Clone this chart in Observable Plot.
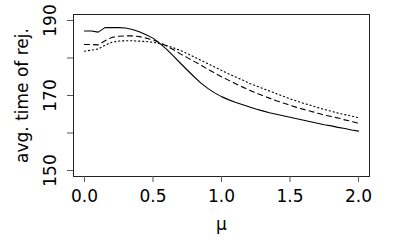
<!DOCTYPE html>
<html>
<head>
<meta charset="utf-8">
<script src="https://cdn.jsdelivr.net/npm/d3@7"></script>
<script src="https://cdn.jsdelivr.net/npm/@observablehq/plot@0.6"></script>
<style>
  html, body { margin: 0; padding: 0; background: #fff; }
</style>
</head>
<body>
<div id="chart"></div>
<script>
const mu = [0,0.05,0.1,0.15,0.2,0.25,0.3,0.35,0.4,0.45,0.5,0.55,0.6,0.65,0.7,0.75,0.8,0.85,0.9,0.95,1.0,1.05,1.1,1.15,1.2,1.25,1.3,1.35,1.4,1.45,1.5,1.55,1.6,1.65,1.7,1.75,1.8,1.85,1.9,1.95,2.0];
const solid = [187.2,187.2,186.9,188.1,188.1,188.1,188.0,187.6,187.0,186.2,185.3,183.9,182.3,180.5,178.6,176.8,175.0,173.3,171.9,170.7,169.7,168.9,168.2,167.6,167.0,166.4,165.9,165.4,165.0,164.6,164.2,163.8,163.4,163.0,162.6,162.2,161.9,161.5,161.2,160.8,160.5];
const dashed = [183.6,183.6,183.5,184.6,185.5,185.8,185.9,185.9,185.7,185.3,184.8,184.1,183.2,182.2,181.1,180.1,179.1,178.1,177.0,176.0,175.0,174.1,173.2,172.3,171.5,170.7,170.0,169.3,168.6,168.0,167.4,166.8,166.3,165.8,165.3,164.8,164.4,164.0,163.5,163.1,162.6];
const dotted = [181.8,182.1,182.4,183.4,184.2,184.5,184.6,184.6,184.5,184.4,184.2,183.8,183.3,182.7,182.0,181.2,180.3,179.4,178.5,177.6,176.7,175.8,175.0,174.2,173.3,172.6,171.9,171.2,170.5,169.8,169.1,168.5,167.9,167.4,166.8,166.3,165.8,165.3,164.9,164.5,164.1];
const xTicks = [0, 0.5, 1.0, 1.5, 2.0];
const yTicks = [150, 160, 170, 180, 190];
const yLabels = [150, 170, 190];

const series = [
  {name: "solid", values: solid, dash: null},
  {name: "dashed", values: dashed, dash: "5,4"},
  {name: "dotted", values: dotted, dash: "1.2,2.8"}
];

const font = "DejaVu Sans";
const fs = 17;

const marks = [
  Plot.frame({stroke: "#222", strokeWidth: 1}),
  Plot.axisX({ticks: xTicks, tickSize: 6, tickPadding: 7, tickFormat: d => d.toFixed(1), fontSize: fs, stroke: "#555", fill: "#000", label: null}),
  Plot.axisY({ticks: yTicks, tickSize: 6, tickFormat: () => "", stroke: "#555", label: null}),
  Plot.text(yLabels, {y: d => d, text: d => String(d), frameAnchor: "left", dx: -18, rotate: -90, textAnchor: "middle", lineAnchor: "bottom", fontSize: fs, fill: "#000"}),
  Plot.text(["avg. time of rej."], {frameAnchor: "left", dx: -46, rotate: -90, textAnchor: "middle", lineAnchor: "bottom", fontSize: fs, fill: "#000"}),
  Plot.text(["μ"], {frameAnchor: "bottom", dy: 53, textAnchor: "middle", lineAnchor: "bottom", fontSize: fs, fill: "#000"})
];
for (const s of series) {
  marks.push(Plot.line(mu.map((m, i) => ({mu: m, v: s.values[i]})), {
    x: "mu", y: "v", stroke: "#000", strokeWidth: 1.1, strokeDasharray: s.dash
  }));
}

const plot = Plot.plot({
  width: 400,
  height: 250,
  marginLeft: 73,
  marginRight: 31,
  marginTop: 14,
  marginBottom: 74,
  style: {fontFamily: font, fontSize: fs + "px", background: "#fff", color: "#000"},
  x: {domain: [-0.08, 2.08]},
  y: {domain: [148.4, 191.6]},
  marks
});
document.getElementById("chart").appendChild(plot);
</script>
</body>
</html>
